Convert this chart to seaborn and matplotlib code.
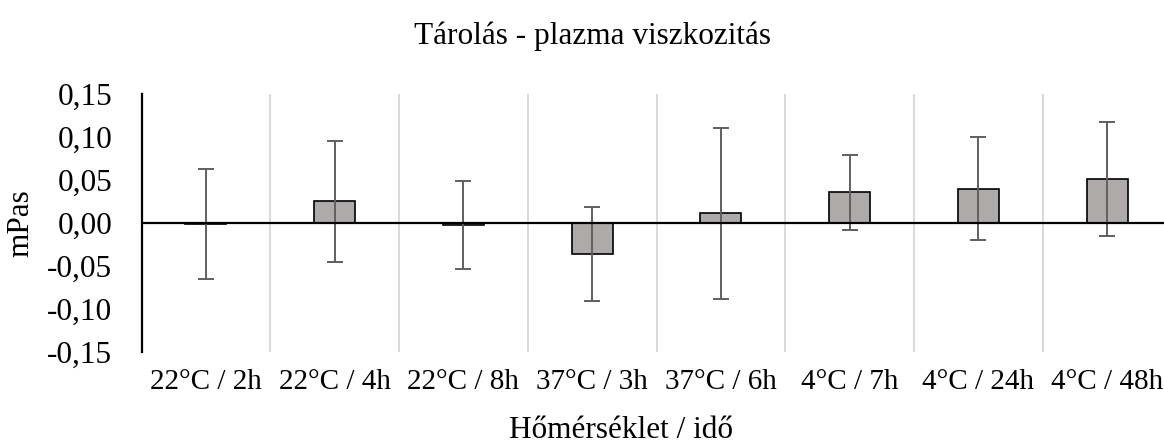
import matplotlib
matplotlib.use("Agg")
import matplotlib.pyplot as plt
import seaborn as sns
import numpy as np

categories = ["22°C / 2h", "22°C / 4h", "22°C / 8h", "37°C / 3h",
              "37°C / 6h", "4°C / 7h", "4°C / 24h", "4°C / 48h"]
values = [-0.0015, 0.025, -0.0025, -0.036, 0.0115, 0.0355, 0.040, 0.051]
errors = [0.064, 0.070, 0.051, 0.0545, 0.0995, 0.044, 0.060, 0.066]
ytick_values = [-0.15, -0.10, -0.05, 0.00, 0.05, 0.10, 0.15]
ytick_labels = ["-0,15", "-0,10", "-0,05", "0,00", "0,05", "0,10", "0,15"]
title = "Tárolás - plazma viszkozitás"
xlabel = "Hőmérséklet / idő"
ylabel = "mPas"

sns.set_theme(style="white")
plt.rcParams["font.family"] = ["Liberation Serif", "DejaVu Serif"]

W, H = 1164, 443
fig = plt.figure(figsize=(W / 100, H / 100), dpi=100)
left, right, top, bottom = 141.5, 1171.5, 94, 352
ax = fig.add_axes([left / W, 1 - bottom / H, (right - left) / W, (bottom - top) / H])

sns.barplot(x=categories, y=values, color="#AEAAAA", edgecolor="black",
            linewidth=1.2, width=0.32, errorbar=None, saturation=1, ax=ax, zorder=3)
ax.errorbar(np.arange(len(categories)), values, yerr=errors, fmt="none",
            ecolor="#5F5F5F", elinewidth=1.4, capsize=5.5, capthick=1.4, zorder=4)

ax.set_xlim(-0.5, len(categories) - 0.5)
ax.set_ylim(-0.15, 0.15)
ax.set_yticks(ytick_values)
ax.set_yticklabels(ytick_labels)
ax.tick_params(axis="y", length=0, pad=21, labelsize=22.5, colors="black")
ax.tick_params(axis="x", length=0, pad=12, labelsize=21, colors="black")

for b in np.arange(0.5, len(categories), 1.0):
    ax.axvline(b, color="#D9D9D9", lw=1.4, zorder=1)
ax.axhline(0, color="black", lw=1.6, zorder=5)

for s in ["top", "right", "bottom"]:
    ax.spines[s].set_visible(False)
ax.spines["left"].set_color("black")
ax.spines["left"].set_linewidth(1.6)
ax.grid(False)

ax.set_xlabel("")
ax.set_ylabel("")
fig.text(593 / W, 1 - 36 / H, title, ha="center", va="center", fontsize=22.5, color="black")
fig.text(621 / W, 1 - 430 / H, xlabel, ha="center", va="center", fontsize=22.5, color="black")
fig.text(21 / W, 1 - 223 / H, ylabel, ha="center", va="center", rotation=90, fontsize=22.5, color="black")

fig.savefig("out.png", dpi=100)
